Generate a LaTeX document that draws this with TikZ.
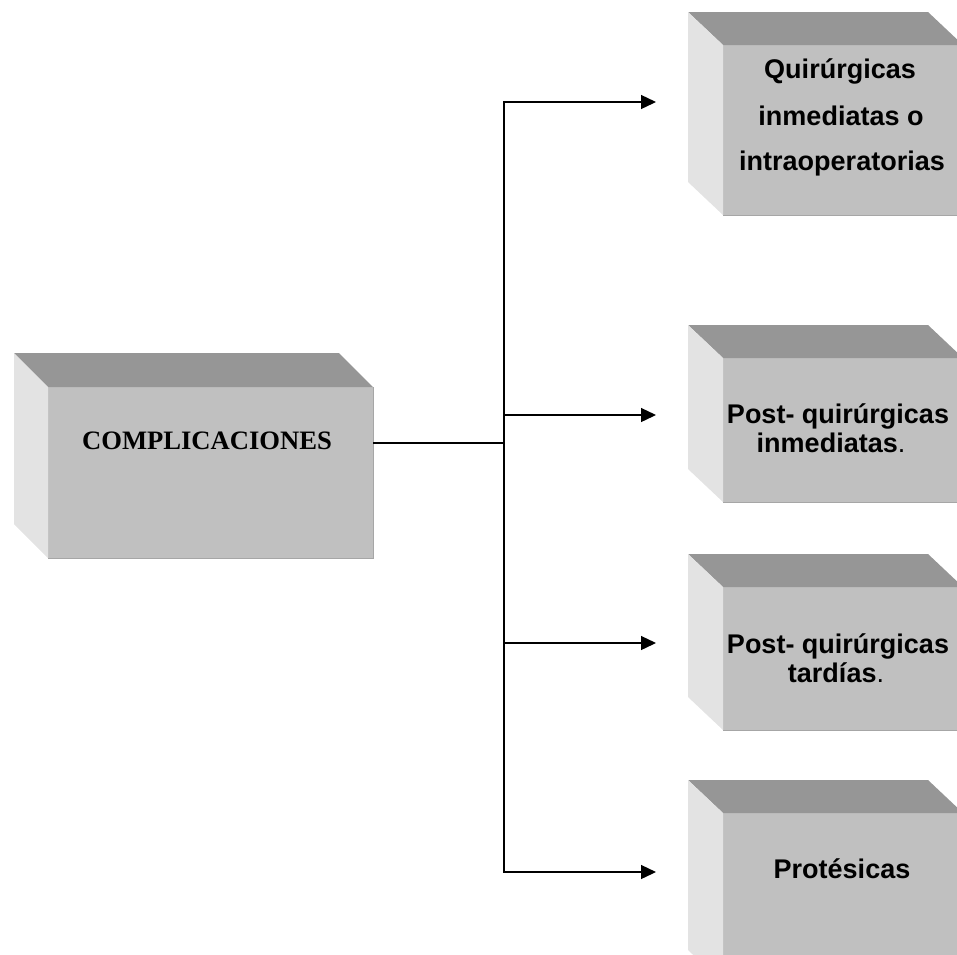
\documentclass[tikz,border=0pt]{standalone}
\usepackage{fontspec}
\setmainfont{Liberation Serif}
\newfontfamily\sansf{Liberation Sans}
\usetikzlibrary{arrows.meta}
\definecolor{topc}{HTML}{969696}
\definecolor{frontc}{HTML}{C0C0C0}
\definecolor{sidec}{HTML}{E3E3E3}
\definecolor{edgec}{HTML}{A6A6A6}
\newcommand\cubefaces[3]{%
  \fill[topc] (#1.north west) -- ++(-#2,-#3) -- ([xshift=-#2pt,yshift=#3pt]#1.north east) -- (#1.north east) -- cycle;
  \fill[sidec] (#1.north west) -- ++(-#2,-#3) -- ([xshift=-#2pt,yshift=#3pt]#1.south west) -- (#1.south west) -- cycle;
  \draw[edgec,line width=1pt] (#1.south west) -- (#1.south east) -- (#1.north east);
}
\begin{document}
\begin{tikzpicture}[x=1pt,y=-1pt,
  front/.style={fill=frontc, inner sep=0pt, outer sep=0pt, anchor=north west, minimum width=#1},
  front/.default=240pt,
  rtext/.style={anchor=base, inner sep=0pt, font=\sansf\bfseries\fontsize{27}{30}\selectfont},
  ltext/.style={anchor=base, inner sep=0pt, font=\bfseries\fontsize{26.6}{30}\selectfont},
  conn/.style={line width=1.3pt, black},
  tip/.style={line width=1.3pt, black, -{Triangle[length=15pt,width=14pt]}},
]
\useasboundingbox (0,0) rectangle (957,954);
\clip (0,0) rectangle (957,954);

% left box
\node[front=325pt, minimum height=171pt] (lf) at (48,387) {};
\cubefaces{lf}{34}{34}
\node[ltext] (lt) at (207,449) {COMPLICACIONES};

% right boxes
\node[front, minimum height=170pt] (f1) at (723,45) {};
\cubefaces{f1}{35}{33}
\node[front, minimum height=144pt] (f2) at (723,358) {};
\cubefaces{f2}{35}{33}
\node[front, minimum height=143pt] (f3) at (723,587) {};
\cubefaces{f3}{35}{33}
\node[front, minimum height=170pt] (f4) at (723,813) {};
\cubefaces{f4}{35}{33}

\node[rtext] (t1a) at (840,78) {Quirúrgicas};
\node[rtext] (t1b) at (841,125) {inmediatas o};
\node[rtext] (t1c) at (842,170) {intraoperatorias};
\node[rtext] (t2a) at (838,423) {Post- quirúrgicas};
\node[rtext] (t2b) at (831,452) {inmediatas\mdseries.};
\node[rtext] (t3a) at (838,653) {Post- quirúrgicas};
\node[rtext] (t3b) at (836,682) {tardías\mdseries.};
\node[rtext] (t4a) at (842,878) {Protésicas};

% connectors
\coordinate (hub) at (504,443);
\coordinate (j1) at (504,102);
\coordinate (j2) at (504,415);
\coordinate (j3) at (504,643);
\coordinate (j4) at (504,872);
\coordinate (a1) at (656,102);
\coordinate (a2) at (656,415);
\coordinate (a3) at (656,643);
\coordinate (a4) at (656,872);

\draw[conn] (lf.east |- hub) -- (hub);
\draw[conn, {Triangle[length=15pt,width=14pt]}-{Triangle[length=15pt,width=14pt]}] (a1) -- (j1) -- (j4) -- (a4);
\draw[tip] (j2) -- (a2);
\draw[tip] (j3) -- (a3);
\end{tikzpicture}
\end{document}
